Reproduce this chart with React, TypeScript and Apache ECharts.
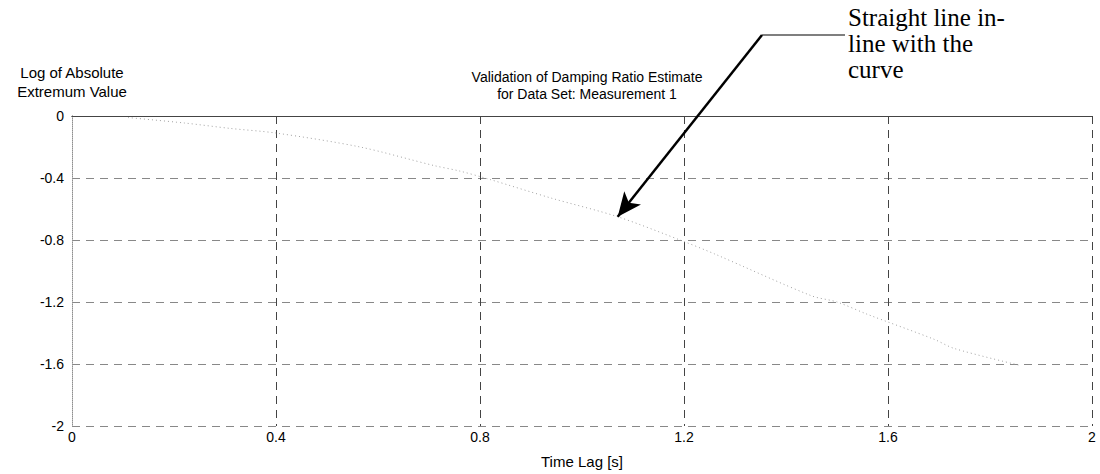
import React, { useEffect, useRef } from "react";
import * as echarts from "echarts";

// Time lag [s] and log of absolute extremum value along the decay curve
const timeLag = [0.11, 0.22, 0.31, 0.4, 0.565, 0.71, 0.76, 0.82, 0.94, 1.07, 1.2, 1.26, 1.45, 1.5, 1.56, 1.69, 1.73, 1.86];
const logExtremum = [-0.01, -0.045, -0.08, -0.11, -0.2, -0.32, -0.355, -0.41, -0.53, -0.65, -0.81, -0.89, -1.16, -1.2, -1.28, -1.44, -1.5, -1.61];

// Point on the curve the callout arrow points at
const arrowIndex = 9;

const titleLines = ["Validation of Damping Ratio Estimate", "for Data Set: Measurement 1"];
const yAxisTitle = ["Log of Absolute", "Extremum Value"];
const xAxisTitle = "Time Lag [s]";
const calloutLines = ["Straight line in-", "line with the", "curve"];

const SANS = '"Liberation Sans", Arial, Helvetica, sans-serif';
const SERIF = '"Liberation Serif", "Times New Roman", serif';

export default function App() {
  const ref = useRef<HTMLDivElement>(null);

  useEffect(() => {
    if (!ref.current) return;
    const chart = echarts.init(ref.current, null, { renderer: "svg" });
    const data = timeLag.map((t, i) => [t, logExtremum[i]]);

    chart.setOption({
      animation: false,
      backgroundColor: "#ffffff",
      title: {
        text: titleLines.join("\n"),
        left: 582,
        top: 63,
        textAlign: "center",
        textStyle: { fontFamily: SANS, fontSize: 14, fontWeight: "normal", color: "#000", lineHeight: 17 },
      },
      grid: { left: 72, right: 8, top: 116, bottom: 48, containLabel: false },
      xAxis: [
        {
          type: "value",
          min: 0,
          max: 2,
          interval: 0.4,
          name: xAxisTitle,
          nameLocation: "middle",
          nameGap: 28,
          nameTextStyle: { fontFamily: SANS, fontSize: 15, color: "#000" },
          axisLine: { show: true, lineStyle: { color: "#444", width: 1 } },
          axisTick: { show: false },
          axisLabel: { fontFamily: SANS, fontSize: 14, color: "#000", margin: 4 },
          splitLine: { show: true, lineStyle: { color: "#444", type: [8, 6], width: 1 } },
        },
        {
          type: "value",
          position: "top",
          min: 0,
          max: 2,
          interval: 0.4,
          axisLine: { show: true, lineStyle: { color: "#444", width: 1 } },
          axisTick: { show: false },
          axisLabel: { show: false },
          splitLine: { show: false },
        },
      ],
      yAxis: [
        {
          type: "value",
          min: -2,
          max: 0,
          interval: 0.4,
          name: yAxisTitle.join("\n"),
          nameLocation: "end",
          nameGap: 15,
          nameTextStyle: { fontFamily: SANS, fontSize: 15, color: "#000", align: "center", lineHeight: 19 },
          axisLine: { show: true, lineStyle: { color: "#444", width: 1 } },
          axisTick: { show: false },
          axisLabel: { fontFamily: SANS, fontSize: 14, color: "#000", margin: 8 },
          splitLine: { show: true, lineStyle: { color: "#888", type: [8, 6], width: 1 } },
        },
        {
          type: "value",
          position: "right",
          min: -2,
          max: 0,
          interval: 0.4,
          axisLine: { show: true, lineStyle: { color: "#bbb", width: 1, type: "dotted" } },
          axisTick: { show: false },
          axisLabel: { show: false },
          splitLine: { show: false },
        },
      ],
      series: [
        {
          type: "line",
          data,
          symbol: "none",
          smooth: 0.3,
          lineStyle: { color: "#a0a0a0", width: 1, type: [1, 3] },
          markLine: {
            silent: true,
            animation: false,
            label: { show: false },
            lineStyle: { color: "#000", width: 2.5, type: "solid" },
            symbolSize: [16, 24],
            data: [
              [
                { x: 762, y: 35, symbol: "none" },
                { coord: [timeLag[arrowIndex], logExtremum[arrowIndex]], symbol: "arrow" },
              ],
            ],
          },
        },
      ],
      graphic: [
        {
          type: "line",
          shape: { x1: 762, y1: 35, x2: 845, y2: 35 },
          style: { stroke: "#000", lineWidth: 1.2 },
        },
        {
          type: "text",
          x: 848,
          y: 4,
          style: {
            text: calloutLines.join("\n"),
            font: `25px ${SERIF}`,
            lineHeight: 26,
            fill: "#000",
          },
        },
      ],
    });

    return () => chart.dispose();
  }, []);

  return (
    <div
      ref={ref}
      style={{ position: "fixed", left: 0, top: 0, width: 1100, height: 474, background: "#fff" }}
    />
  );
}
